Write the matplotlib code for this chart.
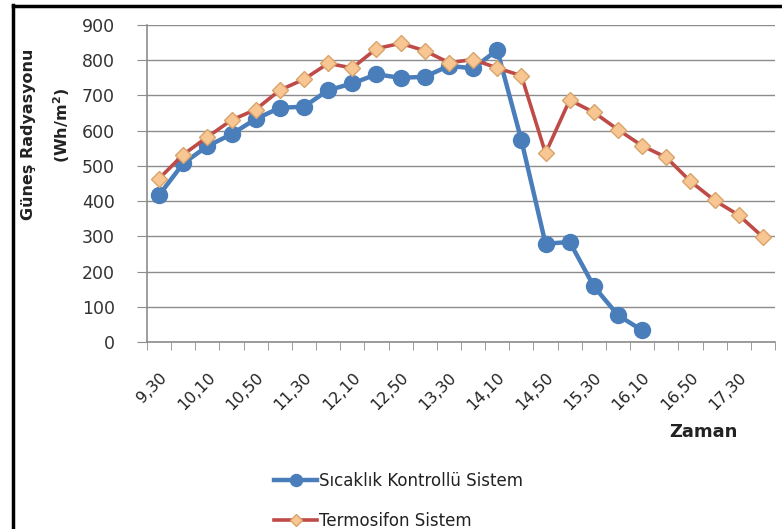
import matplotlib
matplotlib.use("Agg")
import matplotlib.pyplot as plt
from matplotlib.lines import Line2D
import numpy as np

times = ["9,30", "9,50", "10,10", "10,30", "10,50", "11,10", "11,30", "11,50",
         "12,10", "12,30", "12,50", "13,10", "13,30", "13,50", "14,10", "14,30",
         "14,50", "15,10", "15,30", "15,50", "16,10", "16,30", "16,50", "17,10",
         "17,30", "17,50"]
sicaklik = [417, 507, 556, 590, 633, 665, 668, 715, 734, 760, 750, 753, 784,
            777, 829, 573, 279, 284, 158, 76, 33]
termosifon = [464, 532, 582, 630, 660, 715, 746, 791, 778, 833, 848, 827, 793,
              802, 778, 756, 536, 687, 652, 603, 557, 524, 456, 402, 360, 298]
yticks = [0, 100, 200, 300, 400, 500, 600, 700, 800, 900]

W, H = 782, 529
fig = plt.figure(figsize=(W / 100, H / 100), dpi=100)
fig.patch.set_facecolor("white")

ax = fig.add_axes([147 / W, 1 - 342 / H, (775 - 147) / W, (342 - 25) / H])

x_all = np.arange(len(times))
ax.plot(x_all[:len(sicaklik)], sicaklik, color="#4A7EBB", lw=3.2, marker="o",
        ms=11.5, mfc="#4A7EBB", mec="#4A7EBB", label="Sıcaklık Kontrollü Sistem",
        zorder=3)
ax.plot(x_all[:len(termosifon)], termosifon, color="#BE4B48", lw=2.6, marker="D",
        ms=8, mfc="#F7C692", mec="#D9A46C", mew=1.0, label="Termosifon Sistem",
        zorder=4)

ax.set_xlim(-0.5, len(times) - 0.5)
ax.set_ylim(0, 900)
ax.set_yticks(yticks)
ax.set_yticklabels([str(v) for v in yticks], fontsize=12.5, color="#333333")
ax.yaxis.grid(True, color="#8C8C8C", lw=1.0)
ax.set_axisbelow(True)

lab_idx = list(range(0, len(times), 2))
ax.set_xticks(lab_idx)
ax.set_xticklabels([times[i] for i in lab_idx], rotation=45, ha="right",
                   va="top", rotation_mode="anchor", fontsize=11.5, color="#222222")
ax.tick_params(axis="x", which="major", length=0, pad=20)
ax.set_xticks(np.arange(-0.5, len(times), 1.0), minor=True)
ax.tick_params(axis="x", which="minor", length=6, color="#8C8C8C", direction="out")
ax.tick_params(axis="y", length=7, color="#8C8C8C", direction="out", pad=16)

for s in ["top", "right"]:
    ax.spines[s].set_visible(False)
for s in ["left", "bottom"]:
    ax.spines[s].set_color("#8C8C8C")
    ax.spines[s].set_linewidth(1.2)

fig.text(29 / W, 1 - 134 / H, "Güneş Radyasyonu", rotation=90, fontsize=11.5,
         fontweight="bold", ha="center", va="center", color="#222222")
fig.text(62 / W, 1 - 125 / H, "(Wh/m$^{\\mathbf{2}}$)", rotation=90, fontsize=11.5,
         fontweight="bold", ha="center", va="center", color="#222222")
fig.text(703 / W, 1 - 432 / H, "Zaman", fontsize=13, fontweight="bold",
         ha="center", va="center", color="#222222")

handles, labels = ax.get_legend_handles_labels()
leg = fig.legend(handles, labels, loc="center left",
                 bbox_to_anchor=(259 / W, 1 - 501 / H), frameon=False,
                 fontsize=12, handlelength=2.6, handletextpad=0.1,
                 labelspacing=1.35, markerscale=0.75)
for t in leg.get_texts():
    t.set_color("#222222")

fig.add_artist(Line2D([13 / W, 13 / W], [0, 1 - 5 / H], transform=fig.transFigure,
                      color="black", lw=2.5))
fig.add_artist(Line2D([13 / W, 1], [1 - 5.5 / H, 1 - 5.5 / H],
                      transform=fig.transFigure, color="black", lw=2.5))

fig.savefig("out.png", dpi=100, facecolor="white")
